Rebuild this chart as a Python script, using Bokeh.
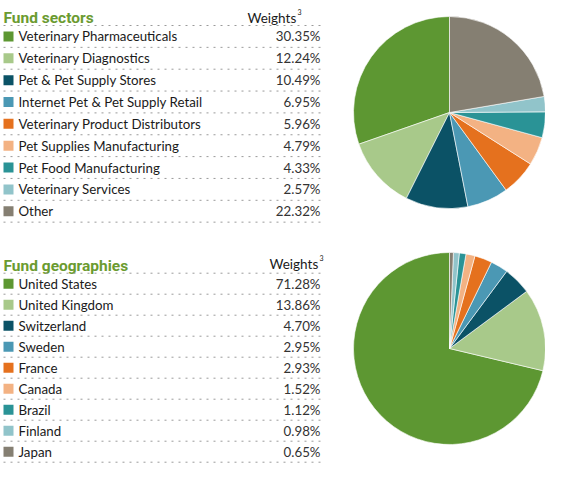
import math
from bokeh.plotting import figure
from bokeh.models import Range1d, ColumnDataSource
from bokeh.core.properties import value
from bokeh.embed import file_html
from bokeh.resources import INLINE

# ---- data ----
sector_names = ["Veterinary Pharmaceuticals", "Veterinary Diagnostics", "Pet & Pet Supply Stores",
                "Internet Pet & Pet Supply Retail", "Veterinary Product Distributors",
                "Pet Supplies Manufacturing", "Pet Food Manufacturing", "Veterinary Services", "Other"]
sector_weights = [30.35, 12.24, 10.49, 6.95, 5.96, 4.79, 4.33, 2.57, 22.32]

geo_names = ["United States", "United Kingdom", "Switzerland", "Sweden", "France",
             "Canada", "Brazil", "Finland", "Japan"]
geo_weights = [71.28, 13.86, 4.70, 2.95, 2.93, 1.52, 1.12, 0.98, 0.65]

palette = ["#5d9732", "#a8c98a", "#0b5266", "#4b98b4", "#e5711e",
           "#f3b283", "#2a9396", "#91c4ca", "#857f72"]

TITLE_GREEN = "#6b9b30"
ROW_FONT = "Lato"
TITLE_FONT = "Roboto"

W, H = 545, 464
p = figure(width=W, height=H, output_backend="svg", toolbar_location=None,
           x_range=Range1d(0, W), y_range=Range1d(H, 0),
           min_border=0)
p.axis.visible = False
p.grid.visible = False
p.outline_line_color = None
p.background_fill_color = "white"


def section(title, names, weights, title_base, weights_x, weights_base, line0, step,
            pie_cx, pie_cy):
    p.text(x=[3], y=[title_base], text=[title], text_font=value(TITLE_FONT),
           text_font_style="bold", text_font_size="15.5px", text_color=TITLE_GREEN,
           text_baseline="alphabetic", text_align="left")
    p.text(x=[weights_x], y=[weights_base], text=["Weights"], text_font=value(ROW_FONT),
           text_font_size="13.5px", text_color="#1a1a1a", text_baseline="alphabetic",
           text_align="left")
    p.text(x=[weights_x + 50], y=[weights_base - 6], text=["3"], text_font=value(ROW_FONT),
           text_font_size="7px", text_color="#1a1a1a", text_baseline="alphabetic",
           text_align="left")
    n = len(names)
    ys = [line0 + step * (i + 0.5) for i in range(n)]
    src = ColumnDataSource(dict(
        y=ys, name=names, pct=["%.2f%%" % w for w in weights], color=palette[:n]))
    for i in range(n + 1):
        yy = line0 + step * i
        p.line(x=[3, 320], y=[yy, yy], line_color="#9a9a9a", line_width=1,
               line_dash="2 5")
    p.scatter(x=8, y="y", source=src, marker="square", size=10,
              fill_color="color", line_color=None)
    p.text(x=18, y="y", text="name", source=src, text_font=value(ROW_FONT),
           text_font_size="13.3px", text_color="#1a1a1a", text_baseline="middle",
           text_align="left")
    p.text(x=320, y="y", text="pct", source=src, text_font=value(ROW_FONT),
           text_font_size="13.3px", text_color="#333333", text_baseline="middle",
           text_align="right")
    total = sum(weights)
    starts, ends = [], []
    cum = 0.0
    for w in weights:
        starts.append(math.pi / 2 + 2 * math.pi * cum / total)
        cum += w
        ends.append(math.pi / 2 + 2 * math.pi * cum / total)
    psrc = ColumnDataSource(dict(s=starts, e=ends, color=palette[:n]))
    p.wedge(x=pie_cx, y=pie_cy, radius=96, radius_units="screen", start_angle="s",
            end_angle="e", direction="anticlock", source=psrc,
            fill_color="color", line_color="white", line_width=0.6)


section("Fund sectors", sector_names, sector_weights, 17.5, 247, 17, 25.0, 21.85, 449, 112)
section("Fund geographies", geo_names, geo_weights, 265, 269, 263, 272.7, 21.0, 449, 348)

open("out.html", "w").write(file_html(p, INLINE))
